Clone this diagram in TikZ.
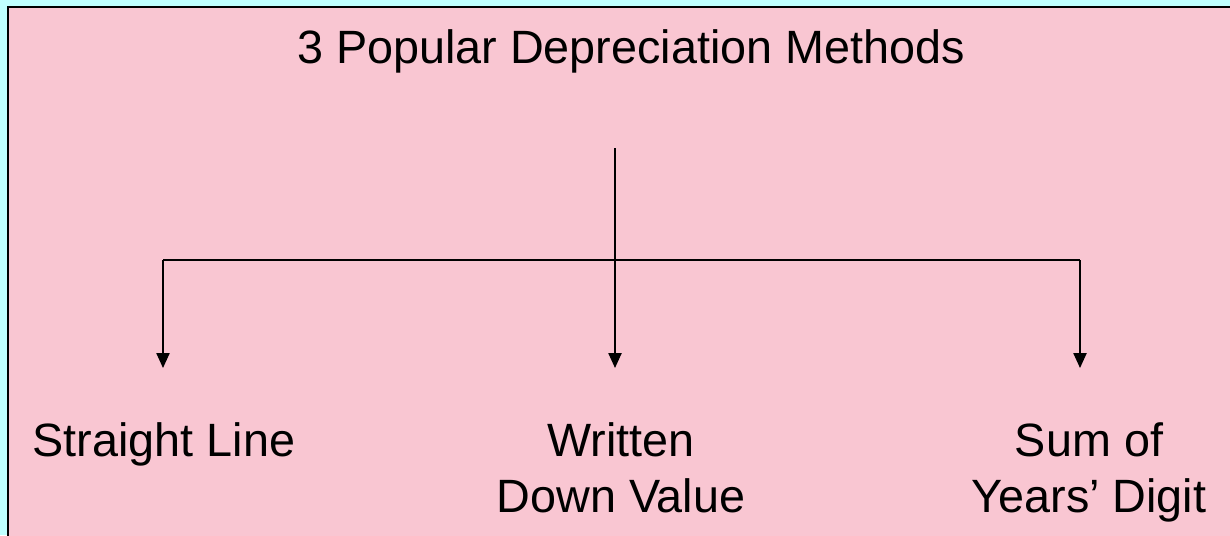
\documentclass[tikz,border=0pt]{standalone}
\usepackage{xcolor}
\usepackage{fontspec}
\setmainfont{Liberation Sans}
\usepackage{tikz}
\usetikzlibrary{arrows.meta, calc}
\definecolor{bgcyan}{RGB}{192,255,255}
\definecolor{slidepink}{RGB}{249,198,210}
\tikzset{
  lbl/.style={font=\fontsize{26.6}{31.7}\selectfont, inner sep=0pt, align=center, anchor=base},
  link/.style={line width=0.9pt},
  arr/.style={link, -{Triangle[width=7.5pt,length=8.5pt]}}
}

\begin{document}
\begin{tikzpicture}[x=0.02cm, y=-0.02cm]
\useasboundingbox[fill=bgcyan] (0,0) rectangle (1230,535);
\draw[fill=slidepink, line width=1.2pt] (8,7) rectangle (1245,550);
\node[lbl] (title) at (631,63) {3 Popular Depreciation Methods};
\coordinate (top) at (615,148);
\coordinate (fork) at (615,260);
\coordinate (lfork) at (163,260);
\coordinate (rfork) at (1080,260);
\coordinate (lend) at (163,368);
\coordinate (mend) at (615,368);
\coordinate (rend) at (1080,368);
\node[lbl] (sline) at (164,456) {Straight Line};
\node[lbl] (wdv) at (621,512) {Written\\Down Value};
\node[lbl] (syd) at (1089,512) {Sum of\\Years' Digit};
\draw[link] (lfork) -- (rfork);
\draw[arr] (top) -- (mend);
\draw[arr] (lfork) -- (lend);
\draw[arr] (rfork) -- (rend);
\end{tikzpicture}
\end{document}
